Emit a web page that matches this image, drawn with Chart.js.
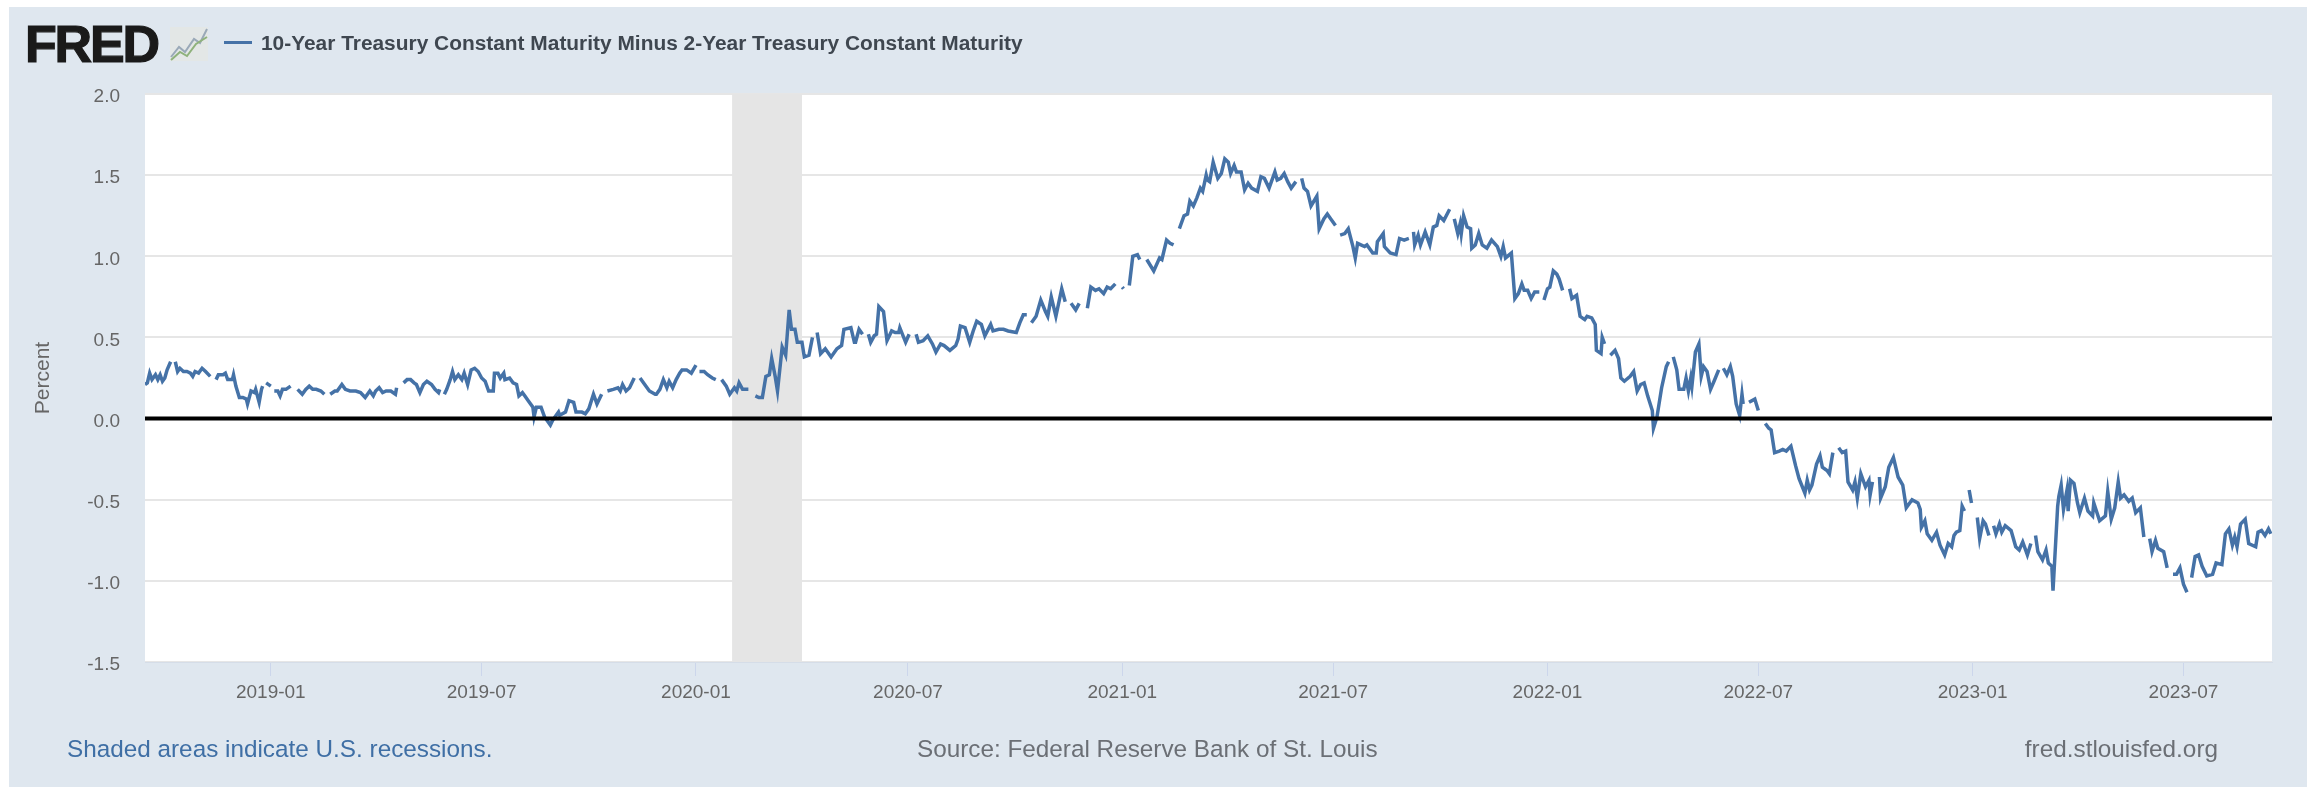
<!DOCTYPE html>
<html>
<head>
<meta charset="utf-8">
<title>FRED T10Y2Y</title>
<script src="https://cdn.jsdelivr.net/npm/chart.js@4"></script>
<style>
  html, body { margin: 0; padding: 0; background: #fff; }
  body { width: 2315px; height: 787px; position: relative; overflow: hidden; font-family: "Liberation Sans", Arial, sans-serif; }
  #panel { position: absolute; left: 9px; top: 7px; width: 2298px; height: 780px; background: #dfe7ef; }
  #c { position: absolute; left: 0; top: 0; }
  .txt { position: absolute; white-space: nowrap; }
  #logo { left: 25px; top: 16px; font-size: 52px; line-height: 56px; font-weight: bold; color: #1a1a1a; letter-spacing: -2.2px; -webkit-text-stroke: 1.2px #1a1a1a; }
  #icon { position: absolute; left: 170px; top: 27px; }
  #swatch { position: absolute; left: 224px; top: 41px; width: 28px; height: 3px; background: #4572a7; }
  #legend { left: 261px; top: 31px; font-size: 20.9px; line-height: 24px; font-weight: bold; color: #3f4750; }
  #note { left: 67px; top: 735px; font-size: 24.3px; line-height: 28px; color: #3f6fa5; }
  #source { left: 917px; top: 735px; font-size: 24.3px; line-height: 28px; color: #6b6f75; }
  #site { right: 97px; top: 735px; font-size: 24.3px; line-height: 28px; color: #6b6f75; }
</style>
</head>
<body>
<div id="panel"></div>
<canvas id="c" width="2315" height="787"></canvas>
<div class="txt" id="logo">FRED</div>
<svg id="icon" width="38" height="34" viewBox="0 0 38 34">
  <rect x="0" y="0" width="38" height="34" fill="#e3e7e6"/>
  <polyline points="1,30 9,20 15,25 24,12 30,16 37,2" fill="none" stroke="#9aa9b8" stroke-width="2"/>
  <polyline points="1,33 10,25 17,29 26,17 37,10" fill="none" stroke="#8fb27c" stroke-width="2"/>
</svg>
<div id="swatch"></div>
<div class="txt" id="legend">10-Year Treasury Constant Maturity Minus 2-Year Treasury Constant Maturity</div>
<div class="txt" id="note">Shaded areas indicate U.S. recessions.</div>
<div class="txt" id="source">Source: Federal Reserve Bank of St. Louis</div>
<div class="txt" id="site">fred.stlouisfed.org</div>

<script>
// day numbers count from startDate, values are percent, null = no data (line breaks)
var startDate = "2018-09-15";
var endDate = "2023-09-15";

var days2018 = [
  0, 2, 4, 6, 9, 11, 13, 15, 17, 19,
  22, 24, 26, 28, 30, 33, 36, 39, 41, 43,
  46, 49, 52, 56, 58, 61, 63, 67, 69, 71,
  75, 76, 78, 81, 84, 87, 88, 91, 94, 95,
  98, 100, 101, 102, 104, 108, 109, 111, 114, 116,
  118, 121, 125, 127, 131, 135, 138, 141, 144, 147,
  151, 154, 156, 159, 163, 165, 169, 172, 176, 181,
  185, 189, 193, 196, 198, 201, 204, 207, 211, 215,
  216, 218, 222, 225, 228, 231, 233, 236, 239, 242,
  246, 249, 252, 253, 255, 257, 259, 262, 264, 266,
  269, 272, 274, 277, 280, 283, 286, 289, 292, 295
];
var values2018 = [
  0.21, 0.22, 0.28, 0.24, 0.27, 0.24, 0.27, 0.23, 0.25, 0.30,
  0.35, null, 0.35, 0.29, 0.31, 0.29, 0.29, 0.28, 0.26, 0.29,
  0.28, 0.31, 0.29, 0.26, null, 0.24, 0.27, 0.27, 0.28, 0.24,
  0.24, 0.27, 0.20, 0.13, 0.13, 0.12, 0.09, 0.17, 0.16, 0.18,
  0.10, 0.18, 0.20, null, 0.22, 0.20, null, 0.17, 0.17, 0.14,
  0.18, 0.18, 0.20, null, 0.18, 0.15, 0.18, 0.20, 0.18, 0.18,
  0.17, 0.15, null, 0.15, 0.17, 0.17, 0.21, 0.18, 0.17, 0.17,
  0.16, 0.13, 0.17, 0.14, 0.17, 0.19, 0.16, 0.17, 0.17, 0.15,
  0.19, null, 0.22, 0.24, 0.24, 0.22, 0.21, 0.16, 0.21, 0.23,
  0.21, 0.18, 0.16, 0.18, null, 0.15, 0.18, 0.24, 0.29, 0.24,
  0.27, 0.24, 0.28, 0.21, 0.30, 0.31, 0.29, 0.25, 0.23, 0.17
];

var days2019 = [
  299, 300, 303, 305, 308, 309, 313, 316, 319, 321,
  324, 326, 329, 333, 334, 336, 340, 343, 348, 350,
  355, 356, 361, 364, 368, 370, 375, 378, 381, 385,
  388, 392, 394, 397, 402, 406, 408, 410, 413, 416,
  420, 422, 425, 429, 433, 438, 439, 442, 445, 448,
  450, 453, 456, 459, 461, 465, 469, 473, 474, 476,
  480, 483, 487, 490, 492, 495, 499, 502, 506, 508,
  510, 513, 518, 520, 524, 527, 530, 533, 536, 538,
  541, 543, 547, 550, 553, 555, 558, 560, 564, 566,
  570, 573, 575, 577, 580, 584, 589, 594, 598, 600,
  606, 609
];
var values2019 = [
  0.17, 0.28, 0.28, 0.25, 0.28, 0.24, 0.25, 0.22, 0.21, 0.14,
  0.16, 0.14, 0.11, 0.07, 0.01, 0.07, 0.07, 0.01, -0.04, -0.01,
  0.04, 0.02, 0.04, 0.11, 0.10, 0.04, 0.04, 0.03, 0.06, 0.15,
  0.09, 0.15, null, 0.17, 0.18, 0.19, 0.17, 0.21, 0.17, 0.19,
  0.25, null, 0.25, 0.21, 0.17, 0.15, 0.15, 0.18, 0.24, 0.19,
  0.23, 0.19, 0.24, 0.28, 0.30, 0.30, 0.28, 0.33, null, 0.29,
  0.29, 0.27, 0.25, 0.24, null, 0.24, 0.20, 0.15, 0.19, 0.17,
  0.22, 0.18, 0.18, null, 0.14, 0.13, 0.13, 0.26, 0.27, 0.37,
  0.26, 0.17, 0.44, 0.39, 0.67, 0.55, 0.55, 0.47, 0.47, 0.38,
  0.39, 0.50, null, 0.53, 0.40, 0.43, 0.38, 0.43, 0.45, 0.55,
  0.56, 0.47
];

var days2020 = [
  610, 613, 616, 618, 621, 623, 626, 628, 630, 634,
  637, 641, 644, 647, 648, 653, 656, 659, 662, 664,
  668, 672, 676, 679, 683, 686, 691, 696, 698, 700,
  704, 708, 711, 714, 718, 721, 726, 728, 733, 737,
  741, 748, 751, 754, 757, 759, 761, 765, 769, 773,
  775, 778, 782, 787, 790, 792, 795, 799, 802, 805,
  809, 812, 816, 819, 823, 826, 829, 833, 835, 839,
  840, 842, 845, 848, 852, 854, 857, 860, 866, 871,
  873, 877, 880, 883, 885, 888, 892, 895, 897, 900,
  903, 906, 908, 911, 912
];
var values2020 = [
  0.47, 0.55, 0.52, null, 0.52, 0.47, 0.51, 0.52, 0.69, 0.66,
  0.48, 0.54, 0.53, 0.53, 0.56, 0.47, 0.52, null, 0.52, 0.47,
  0.48, 0.51, 0.46, 0.41, 0.46, 0.45, 0.42, 0.45, 0.49, 0.57,
  0.56, 0.47, 0.54, 0.60, 0.58, 0.51, 0.58, 0.54, 0.55, 0.55,
  0.54, 0.53, 0.59, 0.64, 0.64, null, 0.59, 0.63, 0.73, 0.66,
  0.63, 0.75, 0.63, 0.80, 0.72, null, 0.71, 0.67, 0.71, null,
  0.68, 0.81, 0.79, 0.80, 0.77, 0.81, 0.80, 0.83, null, 0.81,
  0.80, null, 0.82, 1.00, 1.01, 0.98, null, 0.98, 0.91, 0.99,
  0.98, 1.10, 1.08, 1.07, null, 1.17, 1.25, 1.26, 1.34, 1.31,
  1.36, 1.42, 1.40, 1.50, 1.47
];

var days2021 = [
  914, 917, 921, 924, 927, 930, 932, 935, 937, 941,
  944, 947, 950, 955, 958, 961, 965, 970, 972, 975,
  978, 981, 984, 988, 990, 993, 995, 998, 1001, 1006,
  1008, 1012, 1015, 1018, 1022, 1024, 1026, 1030, 1033, 1037,
  1039, 1041, 1047, 1049, 1054, 1057, 1058, 1063, 1064, 1069,
  1074, 1077, 1081, 1085, 1087, 1089, 1090, 1093, 1095, 1099,
  1103, 1106, 1109, 1111, 1115, 1120, 1122, 1124, 1127, 1129,
  1130, 1132, 1135, 1138, 1139, 1142, 1145, 1148, 1152, 1156,
  1161, 1164, 1166, 1168, 1173, 1176, 1179, 1182, 1184, 1187,
  1190, 1193, 1197, 1199, 1201, 1204, 1206, 1209, 1212, 1214,
  1217, 1220
];
var values2021 = [
  1.46, 1.58, 1.48, 1.51, 1.60, 1.58, 1.51, 1.56, 1.52, 1.52,
  1.41, 1.45, 1.42, 1.40, 1.49, 1.48, 1.42, 1.52, 1.47, 1.48,
  1.51, 1.46, 1.42, 1.46, null, 1.48, 1.42, 1.40, 1.31, 1.37,
  1.17, 1.23, 1.26, 1.23, 1.19, null, 1.13, 1.14, 1.17, 1.06,
  0.99, 1.08, 1.06, 1.07, 1.02, 1.02, 1.09, 1.14, 1.06, 1.02,
  1.01, 1.11, 1.10, 1.11, null, 1.15, 1.07, 1.13, 1.07, 1.15,
  1.07, 1.18, 1.19, 1.25, 1.22, 1.29, null, 1.23, 1.14, 1.20,
  1.14, 1.25, 1.18, 1.17, 1.05, 1.07, 1.14, 1.07, 1.05, 1.10,
  1.06, 1.00, 1.06, 0.99, 1.02, 0.74, 0.77, 0.83, 0.79, 0.79,
  0.74, 0.78, 0.78, null, 0.73, 0.80, 0.81, 0.91, 0.89, 0.86,
  0.79, null
];

var days2022 = [
  1223, 1225, 1229, 1232, 1236, 1238, 1242, 1245, 1246, 1250,
  1251, 1253, 1256, 1258, 1262, 1265, 1267, 1270, 1275, 1278,
  1281, 1284, 1287, 1290, 1294, 1295, 1298, 1302, 1306, 1308,
  1310, 1312, 1315, 1317, 1321, 1323, 1325, 1327, 1328, 1331,
  1334, 1336, 1338, 1341, 1344, 1347, 1351, 1353, 1355, 1358,
  1361, 1363, 1366, 1369, 1371, 1372, 1374, 1377, 1382, 1385,
  1387, 1391, 1394, 1396, 1399, 1403, 1406, 1409, 1413, 1417,
  1420, 1425, 1427, 1429, 1431, 1435, 1438, 1440, 1444, 1446,
  1449, 1451, 1454, 1457, 1460, 1462, 1466, 1468, 1470, 1473,
  1477, 1480, 1481, 1483, 1485, 1489, 1490, 1494, 1497, 1501,
  1505, 1509, 1512, 1517, 1522
];
var values2022 = [
  0.80, 0.74, 0.76, 0.63, 0.61, 0.63, 0.62, 0.58, 0.42, 0.40,
  0.50, 0.46, null, 0.39, 0.42, 0.37, 0.25, 0.23, 0.26, 0.29,
  0.17, 0.21, 0.22, 0.14, 0.05, -0.06, 0.01, 0.19, 0.32, 0.35,
  null, 0.38, 0.30, 0.18, 0.18, 0.25, 0.17, 0.25, 0.20, 0.41,
  0.46, 0.26, 0.32, 0.29, 0.18, 0.23, 0.30, null, 0.31, 0.27,
  0.32, 0.26, 0.09, 0.02, 0.15, 0.09, null, 0.10, 0.12, 0.05,
  null, -0.03, -0.06, -0.07, -0.21, -0.20, -0.19, -0.20, -0.17, -0.29,
  -0.37, -0.46, -0.38, -0.44, -0.41, -0.28, -0.23, -0.30, -0.32, -0.34,
  -0.21, null, -0.18, -0.21, -0.20, -0.39, -0.44, -0.39, -0.49, -0.34,
  -0.42, -0.38, -0.47, -0.39, null, -0.36, -0.49, -0.42, -0.30, -0.24,
  -0.36, -0.41, -0.55, -0.50, -0.52
];

var days2023 = [
  1524, 1525, 1528, 1530, 1534, 1538, 1541, 1545, 1548, 1551,
  1553, 1555, 1558, 1560, 1562, 1564, 1566, 1568, 1570, 1573,
  1575, 1578, 1580, 1583, 1585, 1587, 1589, 1592, 1594, 1597,
  1602, 1606, 1609, 1612, 1616, 1619, 1621, 1623, 1625, 1629,
  1632, 1634, 1637, 1638, 1639, 1642, 1643, 1645, 1647, 1650,
  1651, 1653, 1656, 1659, 1661, 1665, 1668, 1672, 1673, 1678,
  1683, 1685, 1688, 1691, 1694, 1696, 1699, 1703, 1706, 1709,
  1713, 1716, 1718, 1721, 1723, 1726, 1728, 1733, 1736, 1738,
  1741, 1744, 1747, 1750, 1753, 1755, 1757, 1760, 1763, 1766,
  1770, 1775, 1778, 1783, 1786, 1789, 1792, 1794, 1796, 1799,
  1803, 1806, 1812, 1814, 1817, 1820, 1823, 1825
];
var values2023 = [
  -0.56, -0.67, -0.63, -0.71, -0.75, -0.70, -0.78, -0.84, -0.77, -0.79,
  -0.72, -0.70, -0.69, -0.54, -0.57, null, -0.44, -0.52, null, -0.61,
  -0.74, -0.63, -0.65, -0.72, null, -0.66, -0.71, -0.65, -0.70, -0.66,
  -0.69, -0.79, -0.81, -0.76, -0.84, -0.77, null, -0.72, -0.82, -0.87,
  -0.81, -0.89, -0.91, -1.06, -0.93, -0.54, -0.48, -0.41, -0.56, -0.44,
  -0.57, -0.38, -0.40, -0.52, -0.58, -0.49, -0.57, -0.60, -0.52, -0.63,
  -0.60, -0.45, -0.62, -0.55, -0.39, -0.49, -0.47, -0.51, -0.49, -0.58,
  -0.55, -0.73, null, -0.74, -0.82, -0.75, -0.80, -0.82, -0.92, null,
  -0.96, -0.96, -0.92, -1.02, -1.07, null, -0.98, -0.85, -0.84, -0.91,
  -0.97, -0.96, -0.89, -0.90, -0.71, -0.68, -0.78, -0.73, -0.79, -0.65,
  -0.62, -0.77, -0.79, -0.70, -0.69, -0.72, -0.68, -0.71
];

var tickLabels = ["2019-01", "2019-07", "2020-01", "2020-07", "2021-01", "2021-07", "2022-01", "2022-07", "2023-01", "2023-07"];
var yTicks = [2.0, 1.5, 1.0, 0.5, 0.0, -0.5, -1.0, -1.5];
var recession = ["2020-02-01", "2020-04-01"];
var seriesName = "10-Year Treasury Constant Maturity Minus 2-Year Treasury Constant Maturity";

function dayNum(s) {
  var p = s.split("-");
  var b = startDate.split("-");
  return (Date.UTC(+p[0], +p[1] - 1, +(p[2] || 1)) - Date.UTC(+b[0], +b[1] - 1, +b[2])) / 86400000;
}

var allDays = days2018.concat(days2019, days2020, days2021, days2022, days2023);
var allValues = values2018.concat(values2019, values2020, values2021, values2022, values2023);
var points = [];
for (var i = 0; i < allDays.length; i++) {
  points.push({ x: allDays[i], y: allValues[i] });
}
var tickDays = tickLabels.map(dayNum);
var lastDay = dayNum(endDate);

var plotDecor = {
  id: "plotDecor",
  beforeDraw: function (chart) {
    var a = chart.chartArea;
    chart.ctx.fillStyle = "#ffffff";
    chart.ctx.fillRect(a.left, a.top, a.width, a.height);
    // y labels sit a little below their grid lines in the original
    chart.scales.y.getLabelItems().forEach(function (item) {
      if (!item.moved) {
        item.options.translation[1] += 3;
        item.moved = true;
      }
    });
  },
  beforeDatasetsDraw: function (chart) {
    var a = chart.chartArea;
    var x = chart.scales.x;
    var l = x.getPixelForValue(dayNum(recession[0]));
    var r = x.getPixelForValue(dayNum(recession[1]));
    chart.ctx.fillStyle = "#e5e5e5";
    chart.ctx.fillRect(l, a.top, r - l, a.height);
  }
};

var config = {
  type: "line",
  data: {
    datasets: [{
      label: "zero",
      data: [{ x: 0, y: 0 }, { x: lastDay, y: 0 }],
      borderColor: "#000000",
      borderWidth: 4,
      pointRadius: 0,
      order: 1
    }, {
      label: seriesName,
      data: points,
      borderColor: "#4572a7",
      borderWidth: 3.5,
      pointRadius: 0,
      tension: 0,
      spanGaps: false,
      order: 2
    }]
  },
  options: {
    responsive: false,
    animation: false,
    parsing: false,
    layout: { padding: { left: 0, right: 43, top: 94, bottom: 0 } },
    plugins: { legend: { display: false }, title: { display: false }, tooltip: { enabled: false } },
    scales: {
      x: {
        type: "linear",
        min: 0,
        max: lastDay,
        afterFit: function (s) { s.height = 125; },
        afterBuildTicks: function (s) {
          s.ticks = tickDays.map(function (d) { return { value: d }; });
        },
        border: { color: "#d5dde8", width: 1 },
        grid: { drawOnChartArea: false, color: "#ccd6eb", tickLength: 14, tickColor: "#ccd6eb" },
        ticks: {
          autoSkip: false,
          maxRotation: 0,
          padding: 5,
          color: "#666666",
          font: { family: "'Liberation Sans', Arial, sans-serif", size: 19 },
          callback: function (v) { return tickLabels[tickDays.indexOf(v)]; }
        }
      },
      y: {
        min: -1.5,
        max: 2,
        afterFit: function (s) { s.width = 145; },
        afterBuildTicks: function (s) {
          s.ticks = yTicks.map(function (v) { return { value: v }; });
        },
        border: { display: false },
        grid: { color: "#e6e6e6", lineWidth: 2, drawTicks: false },
        title: {
          display: true,
          text: "Percent",
          color: "#666666",
          font: { family: "'Liberation Sans', Arial, sans-serif", size: 21 },
          padding: { top: 31, bottom: 0 }
        },
        ticks: {
          padding: 25,
          color: "#666666",
          font: { family: "'Liberation Sans', Arial, sans-serif", size: 19 },
          callback: function (v) { return v.toFixed(1); }
        }
      }
    }
  },
  plugins: [plotDecor]
};

var myChart = new Chart(document.getElementById("c").getContext("2d"), config);
</script>
</body>
</html>
